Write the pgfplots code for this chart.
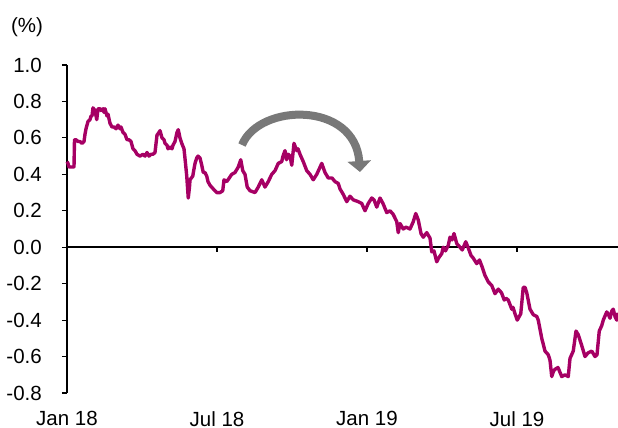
\documentclass[border=0pt]{standalone}
\usepackage{pgfplots}
\pgfplotsset{compat=1.18}
\usepackage{fontspec}
\setmainfont{Liberation Sans}
\usetikzlibrary{arrows.meta}
\definecolor{linecol}{RGB}{166,0,100}
\definecolor{arrowcol}{RGB}{120,120,120}
\begin{document}
\begin{tikzpicture}
\path[use as bounding box] (-67pt,-35pt) rectangle (551pt,393pt);
\begin{axis}[
  at={(0pt,0pt)}, anchor=south west,
  scale only axis, width=551pt, height=328pt,
  xmin=0, xmax=22.04, ymin=-0.8, ymax=1.0,
  axis y line*=left, axis x line*=bottom,
  x axis line style={draw=none},
  y axis line style={line width=1.5pt},
  xtick={0,6,12,18},
  xticklabels={Jan 18, Jul 18, Jan 19, Jul 19},
  xtick style={draw=none},
  ytick={-0.8,-0.6,-0.4,-0.2,0,0.2,0.4,0.6,0.8,1.0},
  yticklabels={-0.8,-0.6,-0.4,-0.2,0.0,0.2,0.4,0.6,0.8,1.0},
  ytick style={line width=1.2pt, black},
  tick align=outside, major tick length=5pt,
  ticklabel style={font=\fontsize{20.5}{23}\selectfont},
  yticklabel style={anchor=east, inner sep=0pt, xshift=-20pt},
  xticklabel style={anchor=north, inner sep=0pt, yshift=-13pt},
  clip=false,
]
\draw[line width=1.5pt] (axis cs:0,0) -- (axis cs:22.04,0);
\draw[line width=1.2pt] (axis cs:6,0) -- (axis cs:6,-0.028);
\draw[line width=1.2pt] (axis cs:12,0) -- (axis cs:12,-0.028);
\draw[line width=1.2pt] (axis cs:18,0) -- (axis cs:18,-0.028);
\addplot[linecol, line width=3.4pt, line join=round] coordinates {
(0.00,0.47) (0.04,0.46) (0.08,0.44) (0.20,0.44) (0.28,0.44) (0.30,0.59) (0.36,0.59) (0.44,0.58)
(0.52,0.58) (0.60,0.57) (0.68,0.58) (0.72,0.62) (0.76,0.65) (0.84,0.69) (0.92,0.70) (0.96,0.72)
(1.00,0.72) (1.04,0.765) (1.12,0.75) (1.19,0.70) (1.24,0.76) (1.32,0.76) (1.36,0.75) (1.44,0.76)
(1.48,0.74) (1.52,0.76) (1.60,0.72) (1.64,0.73) (1.72,0.68) (1.80,0.66) (1.88,0.66) (1.96,0.65)
(2.04,0.67) (2.12,0.65) (2.16,0.66) (2.24,0.63) (2.32,0.62) (2.40,0.59) (2.48,0.59) (2.56,0.58)
(2.64,0.54) (2.72,0.53) (2.80,0.51) (2.92,0.50) (3.04,0.51) (3.12,0.50) (3.20,0.52) (3.28,0.50)
(3.36,0.51) (3.44,0.51) (3.52,0.52) (3.60,0.615) (3.68,0.63) (3.72,0.64) (3.76,0.62) (3.80,0.60)
(3.88,0.59) (3.92,0.57) (4.00,0.56) (4.04,0.54) (4.12,0.55) (4.20,0.54) (4.24,0.56) (4.32,0.58)
(4.40,0.63) (4.45,0.645) (4.52,0.60) (4.59,0.57) (4.68,0.54) (4.74,0.46) (4.79,0.39) (4.85,0.27)
(4.90,0.33) (4.92,0.37) (5.03,0.39) (5.08,0.43) (5.12,0.46) (5.19,0.49) (5.24,0.50) (5.32,0.49)
(5.39,0.45) (5.45,0.41) (5.52,0.41) (5.59,0.39) (5.64,0.36) (5.72,0.34) (5.85,0.32) (5.99,0.30)
(6.12,0.30) (6.23,0.31) (6.28,0.37) (6.39,0.36) (6.49,0.38) (6.59,0.40) (6.72,0.41) (6.85,0.44)
(6.95,0.48) (7.03,0.42) (7.12,0.40) (7.21,0.33) (7.32,0.31) (7.52,0.30) (7.65,0.33) (7.79,0.37)
(7.92,0.33) (8.05,0.36) (8.19,0.40) (8.32,0.42) (8.45,0.46) (8.59,0.47) (8.64,0.50) (8.72,0.53)
(8.78,0.48) (8.85,0.51) (8.92,0.50) (8.99,0.45) (9.08,0.57) (9.19,0.53) (9.24,0.54) (9.32,0.51)
(9.45,0.47) (9.59,0.42) (9.72,0.40) (9.85,0.37) (9.99,0.40) (10.19,0.46) (10.32,0.41) (10.45,0.38)
(10.60,0.38) (10.72,0.36) (10.85,0.35) (10.92,0.32) (11.05,0.29) (11.19,0.25) (11.32,0.28) (11.45,0.26)
(11.65,0.25) (11.79,0.24) (11.92,0.20) (12.05,0.24) (12.19,0.27) (12.28,0.26) (12.39,0.22) (12.52,0.27)
(12.64,0.24) (12.79,0.19) (12.92,0.20) (13.05,0.18) (13.19,0.14) (13.25,0.08) (13.32,0.13) (13.45,0.10)
(13.56,0.11) (13.72,0.10) (13.85,0.14) (13.95,0.185) (14.05,0.15) (14.16,0.075) (14.25,0.055) (14.39,0.08)
(14.52,0.05) (14.59,-0.025) (14.68,-0.02) (14.79,-0.08) (14.86,-0.06) (14.99,-0.035) (15.05,0.00) (15.14,-0.02)
(15.25,0.01) (15.32,0.055) (15.40,0.04) (15.48,0.075) (15.59,0.02) (15.72,0.00) (15.81,-0.015) (15.95,0.03)
(16.04,0.00) (16.16,-0.045) (16.25,-0.06) (16.39,-0.09) (16.50,-0.07) (16.61,-0.11) (16.72,-0.155) (16.85,-0.19)
(16.99,-0.21) (17.12,-0.255) (17.25,-0.23) (17.38,-0.25) (17.49,-0.29) (17.56,-0.28) (17.65,-0.29) (17.79,-0.34)
(17.84,-0.33) (17.92,-0.365) (18.01,-0.40) (18.15,-0.365) (18.25,-0.22) (18.32,-0.22) (18.39,-0.25) (18.52,-0.34)
(18.65,-0.37) (18.79,-0.38) (18.85,-0.40) (18.99,-0.50) (19.12,-0.57) (19.25,-0.59) (19.32,-0.62) (19.39,-0.71)
(19.46,-0.68) (19.52,-0.67) (19.64,-0.66) (19.79,-0.71) (19.92,-0.70) (20.05,-0.71) (20.12,-0.61) (20.25,-0.57)
(20.36,-0.46) (20.45,-0.48) (20.59,-0.54) (20.72,-0.60) (20.84,-0.58) (20.99,-0.57) (21.12,-0.60) (21.20,-0.59)
(21.29,-0.46) (21.39,-0.43) (21.45,-0.40) (21.59,-0.355) (21.66,-0.37) (21.72,-0.39) (21.79,-0.35) (21.85,-0.34)
(21.92,-0.38) (21.99,-0.40) (22.04,-0.36)
};
\end{axis}
\node[font=\fontsize{20.5}{23}\selectfont] at (-40pt,366pt) {(\%)};
\draw[arrowcol, line width=8pt, -{Triangle[width=23pt,length=11pt]}]
  (175pt,248pt) .. controls (192pt,290pt) and (288pt,292pt) .. (293pt,221pt);
\end{tikzpicture}
\end{document}
